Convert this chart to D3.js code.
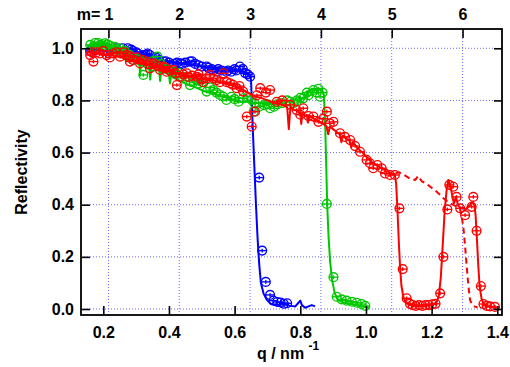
<!DOCTYPE html>
<html>
<head>
<meta charset="utf-8">
<script src="https://cdn.jsdelivr.net/npm/d3@7"></script>
<style>
  body { margin: 0; background: #fff; }
  svg { display: block; font-family: "Liberation Sans", Arial, sans-serif; font-weight: bold; }
</style>
</head>
<body>
<div id="chart"></div>
<script>
// tick values
const xTicks = [0.2, 0.4, 0.6, 0.8, 1.0, 1.2, 1.4]
const yTicks = [0, 0.2, 0.4, 0.6, 0.8, 1.0]
const mTicks = [1, 2, 3, 4, 5, 6]
const qcNi = 0.2157   // q of m=1 (nickel), nm^-1

// measured points [q, R]
const bluePts = [[0.16,0.99],[0.18,0.995],[0.20,0.99],[0.22,0.995],[0.24,1.0],[0.26,1.0],[0.275,1.0],[0.285,0.995],
  [0.29,0.99],[0.3,0.985],[0.305,0.98],[0.317,0.974],[0.325,0.97],[0.33,0.975],[0.335,0.98],[0.342,0.974],
  [0.355,0.96],[0.36,0.965],[0.37,0.955],[0.383,0.949],[0.39,0.95],[0.40,0.945],[0.415,0.94],[0.425,0.945],
  [0.434,0.942],[0.44,0.94],[0.45,0.945],[0.464,0.949],[0.47,0.95],[0.48,0.94],[0.49,0.935],[0.50,0.93],
  [0.515,0.93],[0.52,0.925],[0.53,0.92],[0.545,0.911],[0.55,0.92],[0.56,0.915],[0.575,0.91],[0.58,0.915],
  [0.59,0.91],[0.6,0.92],[0.605,0.915],[0.616,0.93],[0.625,0.92],[0.632,0.905],[0.64,0.9],[0.647,0.891],
  [0.675,0.504],[0.684,0.224],[0.695,0.104],[0.708,0.054],[0.718,0.032],[0.73,0.027],[0.74,0.025],[0.75,0.02],[0.76,0.022]]

const greenPts = [[0.16,1.013],[0.17,1.005],[0.175,1.02],[0.185,1.02],[0.19,1.013],[0.2,1.01],[0.205,1.019],
  [0.212,1.015],[0.22,1.01],[0.228,1.0],[0.235,1.006],[0.242,0.995],[0.25,1.0],[0.258,0.985],[0.265,0.99],
  [0.272,0.97],[0.28,0.975],[0.29,0.955],[0.30,0.96],[0.31,0.955],[0.315,0.95],[0.322,0.898],[0.332,0.942],
  [0.34,0.935],[0.35,0.95],[0.355,0.93],[0.365,0.968],[0.375,0.94],[0.385,0.93],[0.392,0.92],[0.40,0.917],
  [0.415,0.91],[0.42,0.9],[0.43,0.905],[0.44,0.89],[0.45,0.891],[0.464,0.859],[0.475,0.87],[0.484,0.878],
  [0.49,0.865],[0.50,0.87],[0.515,0.834],[0.525,0.85],[0.535,0.84],[0.545,0.83],[0.555,0.821],[0.565,0.815],
  [0.575,0.802],[0.59,0.814],[0.6,0.805],[0.612,0.795],[0.625,0.808],[0.64,0.814],[0.652,0.802],[0.658,0.757],
  [0.66,0.79],[0.675,0.776],[0.69,0.782],[0.7,0.785],[0.708,0.77],[0.72,0.776],[0.73,0.785],[0.745,0.79],
  [0.76,0.8],[0.769,0.795],[0.78,0.79],[0.79,0.80],[0.80,0.81],[0.809,0.808],[0.82,0.83],[0.825,0.82],
  [0.84,0.84],[0.85,0.83],[0.855,0.845],[0.86,0.814],[0.868,0.83],
  [0.881,0.403],[0.901,0.122],[0.911,0.047],[0.926,0.037],[0.941,0.032],[0.957,0.028],
  [0.972,0.024],[0.987,0.019],[0.998,0.012]]

const redPts = [[0.160,0.974],[0.165,0.985],[0.170,0.949],[0.180,0.985],[0.190,0.98],[0.2,0.99],[0.210,0.974],
  [0.22,0.965],[0.231,0.98],[0.24,0.985],[0.251,0.968],[0.262,0.985],[0.271,0.974],[0.28,0.97],[0.281,0.949],
  [0.291,0.955],[0.302,0.965],[0.312,0.942],[0.32,0.955],[0.332,0.949],[0.34,0.94],[0.342,0.923],[0.352,0.942],
  [0.362,0.935],[0.37,0.93],[0.373,0.917],[0.383,0.93],[0.39,0.925],[0.393,0.91],[0.403,0.915],[0.413,0.917],
  [0.42,0.905],[0.424,0.859],[0.434,0.891],[0.444,0.9],[0.454,0.904],[0.46,0.89],[0.470,0.895],[0.485,0.891],
  [0.49,0.9],[0.500,0.88],[0.505,0.87],[0.515,0.885],[0.525,0.898],[0.535,0.885],[0.545,0.878],[0.555,0.87],
  [0.566,0.904],[0.576,0.87],[0.586,0.866],[0.595,0.86],[0.606,0.847],[0.615,0.855],[0.626,0.834],
  [0.637,0.738],[0.652,0.70],
  [0.662,0.757],[0.668,0.82],[0.678,0.847],[0.695,0.83],[0.708,0.84],[0.728,0.795],[0.745,0.80],[0.769,0.783],
  [0.789,0.763],[0.800,0.745],[0.809,0.77],[0.825,0.74],[0.840,0.738],[0.855,0.718],[0.870,0.73],[0.881,0.757],
  [0.890,0.712],[0.901,0.718],[0.921,0.674],[0.936,0.66],[0.952,0.648],[0.967,0.625],[0.982,0.603],[1.002,0.572],
  [1.012,0.559],[1.022,0.54],[1.035,0.552],[1.048,0.54],[1.058,0.52],[1.073,0.514],[1.088,0.514],
  [1.102,0.386],[1.112,0.153],[1.124,0.041],[1.134,0.02],[1.142,0.015],[1.152,0.012],[1.162,0.015],[1.172,0.012],
  [1.182,0.015],[1.192,0.015],[1.202,0.018],[1.212,0.02],[1.226,0.06],[1.236,0.20],[1.248,0.382],[1.254,0.476],
  [1.266,0.469],[1.276,0.43],[1.287,0.386],[1.302,0.36],[1.322,0.392],[1.327,0.43],[1.337,0.30],[1.350,0.088],
  [1.358,0.019],[1.368,0.012],[1.378,0.01],[1.393,0.008]]

// continuous curves [q, R]
const blueLine = [[0.15,1.0],[0.2,0.99],[0.25,0.985],[0.3,0.97],[0.35,0.96],[0.4,0.95],[0.45,0.94],[0.5,0.93],
  [0.55,0.925],[0.6,0.915],[0.63,0.91],[0.645,0.9],[0.65,0.88],[0.655,0.7],[0.66,0.55],[0.665,0.4],[0.67,0.27],
  [0.675,0.17],[0.68,0.1],[0.688,0.06],[0.698,0.035],[0.71,0.02],[0.73,0.015],[0.75,0.018],[0.77,0.012],
  [0.785,0.01],[0.795,0.025],[0.80,0.032],[0.805,0.015],[0.815,0.005],[0.825,0.01],[0.835,0.015],[0.845,0.01]]

const greenLine = [[0.15,1.01],[0.18,1.015],[0.21,1.01],[0.24,1.0],[0.265,0.99],[0.28,0.965],[0.30,0.955],
  [0.31,0.95],[0.312,0.895],[0.315,0.95],[0.33,0.945],[0.34,0.93],[0.343,0.88],[0.347,0.935],[0.36,0.925],
  [0.37,0.92],[0.373,0.875],[0.377,0.92],[0.39,0.91],[0.40,0.9],[0.403,0.865],[0.407,0.9],[0.42,0.885],
  [0.44,0.87],[0.46,0.86],[0.48,0.85],[0.50,0.84],[0.52,0.83],[0.54,0.825],[0.56,0.815],[0.58,0.81],[0.60,0.8],
  [0.62,0.795],[0.64,0.795],[0.66,0.79],[0.68,0.79],[0.70,0.79],[0.72,0.79],[0.74,0.795],[0.76,0.795],
  [0.78,0.8],[0.80,0.805],[0.815,0.81],[0.825,0.835],[0.835,0.845],[0.85,0.84],[0.865,0.845],[0.872,0.82],
  [0.876,0.7],[0.879,0.55],[0.882,0.40],[0.886,0.28],[0.891,0.18],[0.897,0.11],[0.905,0.06],[0.915,0.035],
  [0.93,0.025],[0.95,0.02],[0.97,0.015],[0.99,0.01],[1.01,0.005]]

const redLine = [[0.15,0.985],[0.18,0.98],[0.21,0.975],[0.24,0.97],[0.27,0.96],[0.30,0.95],[0.33,0.94],
  [0.36,0.93],[0.39,0.92],[0.42,0.905],[0.45,0.895],[0.48,0.885],[0.51,0.88],[0.54,0.875],[0.57,0.865],
  [0.60,0.855],[0.62,0.845],[0.64,0.83],[0.66,0.815],[0.68,0.81],[0.70,0.8],[0.72,0.79],[0.74,0.785],
  [0.76,0.775],[0.765,0.69],[0.77,0.775],[0.78,0.765],[0.79,0.76],[0.80,0.75],[0.803,0.71],[0.806,0.75],
  [0.815,0.74],[0.82,0.745],[0.823,0.715],[0.83,0.74],[0.84,0.73],[0.85,0.725],[0.86,0.715],[0.87,0.71],
  [0.88,0.70],[0.885,0.67],[0.89,0.70],[0.90,0.69],[0.91,0.68],[0.92,0.67],[0.925,0.64],[0.93,0.665],
  [0.94,0.655],[0.95,0.645],[0.955,0.62],[0.96,0.64],[0.97,0.625],[0.98,0.61],[0.99,0.6],[1.0,0.585],
  [1.01,0.575],[1.02,0.56],[1.03,0.555],[1.04,0.545],[1.05,0.54],[1.06,0.53],[1.07,0.525],[1.08,0.52],
  [1.088,0.515],[1.092,0.48],[1.096,0.38],[1.100,0.26],[1.104,0.16],[1.108,0.09],[1.114,0.045],[1.122,0.025],
  [1.135,0.015],[1.15,0.012],[1.17,0.012],[1.19,0.015],[1.205,0.018],[1.215,0.025],[1.222,0.05],[1.228,0.12],
  [1.234,0.25],[1.240,0.38],[1.246,0.46],[1.251,0.495],[1.258,0.47],[1.262,0.44],[1.268,0.405],[1.274,0.43],
  [1.28,0.40],[1.288,0.385],[1.295,0.39],[1.302,0.38],[1.31,0.39],[1.318,0.40],[1.322,0.41],[1.330,0.40],
  [1.334,0.36],[1.338,0.27],[1.342,0.17],[1.346,0.09],[1.352,0.04],[1.358,0.02],[1.37,0.01],[1.39,0.006],[1.40,0.005]]

const redDash = [[1.090,0.52],[1.100,0.525],[1.115,0.515],[1.134,0.50],[1.150,0.495],[1.159,0.51],[1.170,0.49],
  [1.185,0.48],[1.200,0.465],[1.2155,0.45],[1.236,0.425],[1.25,0.41],[1.265,0.40],[1.28,0.39],[1.2865,0.386],
  [1.292,0.35],[1.2966,0.316],[1.302,0.24],[1.307,0.162],[1.312,0.09],[1.317,0.035],[1.324,0.015],[1.332,0.009],[1.34,0.006]]

const W = 510, H = 367
const pL = 81, pR = 502, pT = 29, pB = 315

const svg = d3.select('#chart').append('svg').attr('width', W).attr('height', H)

const x = d3.scaleLinear().domain([0.1321, 1.4144]).range([pL, pR])
const y = d3.scaleLinear().domain([-0.023, 1.074]).range([pB, pT])
// top axis in units of m = q / qc(Ni)
const xm = d3.scaleLinear().domain(x.domain().map(q => q / qcNi)).range([pL, pR])

// grid
const grid = svg.append('g').attr('stroke', '#6a6aff').attr('stroke-width', 1).attr('stroke-dasharray', '1,2')
grid.selectAll('.vg').data(mTicks).join('line')
  .attr('x1', d => xm(d)).attr('x2', d => xm(d)).attr('y1', pT).attr('y2', pB)
grid.selectAll('.hg').data(yTicks).join('line')
  .attr('x1', pL).attr('x2', pR).attr('y1', d => y(d)).attr('y2', d => y(d))

svg.append('defs').append('clipPath').attr('id', 'clip')
  .append('rect').attr('x', pL).attr('y', pT).attr('width', pR - pL).attr('height', pB - pT)
const plot = svg.append('g').attr('clip-path', 'url(#clip)')

const line = d3.line().x(d => x(d[0])).y(d => y(d[1]))

function drawMarkers (data, color) {
  let g = plot.append('g').attr('stroke', color).attr('fill', 'none').attr('stroke-width', 1.35)
  let m = g.selectAll('g').data(data).join('g')
    .attr('transform', d => 'translate(' + x(d[0]) + ',' + y(d[1]) + ')')
  m.append('circle').attr('r', 4.4)
  m.append('line').attr('x1', -4.4).attr('x2', 4.4)
  m.append('line').attr('y1', -1.8).attr('y2', 1.8)
}

function drawLine (data, color, dash) {
  plot.append('path').datum(data).attr('d', line)
    .attr('fill', 'none').attr('stroke', color).attr('stroke-width', 2)
    .attr('stroke-linejoin', 'round')
    .attr('stroke-dasharray', dash || null)
}

drawLine(blueLine, '#0000ff')
drawMarkers(bluePts, '#0000ff')
drawLine(greenLine, '#00c800')
drawMarkers(greenPts, '#00c800')
drawLine(redLine, '#ff0000')
drawLine(redDash, '#ff0000', '6,4')
drawMarkers(redPts, '#ff0000')

// axes
function styleAxis (g) {
  g.select('.domain').remove()
  g.selectAll('.tick line').attr('stroke', '#000').attr('stroke-width', 1.6)
  g.selectAll('.tick text').attr('fill', '#000').style('font-size', '16px').style('font-weight', 'bold')
    .style('font-family', '"Liberation Sans", Arial, sans-serif')
}

svg.append('g').attr('transform', 'translate(0,' + pB + ')')
  .call(d3.axisBottom(x).tickValues(xTicks).tickSizeInner(-9).tickSizeOuter(0).tickFormat(d3.format('.1f')))
  .call(styleAxis)
  .call(g => g.selectAll('.tick text').attr('y', 23).attr('dy', null))

svg.append('g').attr('transform', 'translate(' + pL + ',0)')
  .call(d3.axisLeft(y).tickValues(yTicks).tickSizeInner(-9).tickSizeOuter(0).tickPadding(7).tickFormat(d3.format('.1f')))
  .call(styleAxis)

svg.append('g').attr('transform', 'translate(' + pR + ',0)')
  .call(d3.axisRight(y).tickValues(yTicks).tickSizeInner(-8).tickSizeOuter(0).tickFormat(''))
  .call(styleAxis)

svg.append('g').attr('transform', 'translate(0,' + pT + ')')
  .call(d3.axisTop(xm).tickValues(mTicks).tickSizeInner(-9).tickSizeOuter(0).tickPadding(9).tickFormat(d3.format('d')))
  .call(styleAxis)

svg.append('text').attr('x', xm(1) - 8).attr('y', pT - 9).attr('text-anchor', 'end')
  .style('font-size', '16px').text('m=')

// frame
svg.append('rect').attr('x', pL).attr('y', pT).attr('width', pR - pL).attr('height', pB - pT)
  .attr('fill', 'none').attr('stroke', '#000').attr('stroke-width', 1.8)

// titles
svg.append('text').attr('transform', 'translate(27,' + ((pT + pB) / 2) + ') rotate(-90)')
  .attr('text-anchor', 'middle').style('font-size', '16px').text('Reflectivity')

let xt = svg.append('text').attr('x', 257).attr('y', 359).style('font-size', '16px')
xt.append('tspan').text('q / nm ')
xt.append('tspan').attr('dy', -9).style('font-size', '12px').text('-1')
</script>
</body>
</html>
